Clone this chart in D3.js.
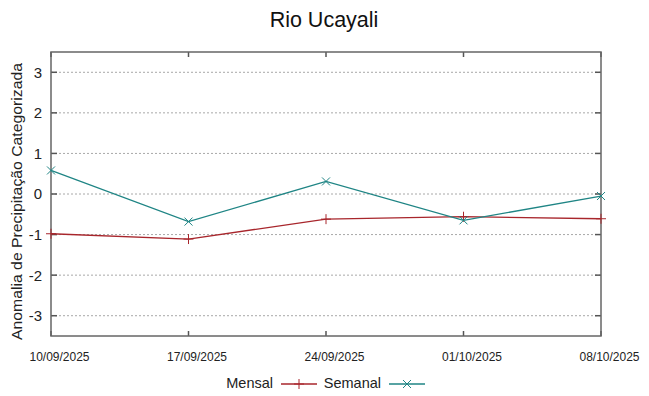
<!DOCTYPE html>
<html><head><meta charset="utf-8">
<script src="https://cdn.jsdelivr.net/npm/d3@7"></script>
<style>body{margin:0;background:#fff}svg{display:block;font-family:"Liberation Sans",Arial,sans-serif}</style>
</head><body><svg id="c" width="649" height="396"></svg>
<script>
const title = "Rio Ucayali";
const yLabel = "Anomalia de Precipitação Categorizada";
const dates = ["10/09/2025","17/09/2025","24/09/2025","01/10/2025","08/10/2025"];
const mensal = [-0.98, -1.11, -0.62, -0.56, -0.61];
const semanal = [0.58, -0.68, 0.31, -0.65, -0.05];
const yTicks = [-3,-2,-1,0,1,2,3];
const seriesNames = ["Mensal","Semanal"];
const colors = ["#a8262c","#1f8585"];

const svg = d3.select("#c");
const L=51, R=601, T=52, B=336;
const parse = d3.timeParse("%d/%m/%Y");
const x = d3.scaleTime().domain([parse(dates[0]), parse(dates[dates.length-1])]).range([L,R]);
const y = d3.scaleLinear().domain([-3.5,3.5]).range([B,T]);

// grid
svg.append("g").selectAll("line").data(yTicks).join("line")
  .attr("x1",L).attr("x2",R).attr("y1",d=>y(d)).attr("y2",d=>y(d))
  .attr("stroke","#a8a8a8").attr("stroke-width",1).attr("stroke-dasharray","2,2");

// ticks inward
const tk = svg.append("g").attr("stroke","#555").attr("stroke-width",1.5);
yTicks.forEach(v=>{
  tk.append("line").attr("x1",L).attr("x2",L+6).attr("y1",y(v)).attr("y2",y(v));
  tk.append("line").attr("x1",R-6).attr("x2",R).attr("y1",y(v)).attr("y2",y(v));
});
dates.forEach(d=>{
  const xx = x(parse(d));
  tk.append("line").attr("x1",xx).attr("x2",xx).attr("y1",B).attr("y2",B-5);
  tk.append("line").attr("x1",xx).attr("x2",xx).attr("y1",T).attr("y2",T+5);
});
// frame
svg.append("rect").attr("x",L).attr("y",T).attr("width",R-L).attr("height",B-T)
  .attr("fill","none").attr("stroke","#666").attr("stroke-width",1.5);

// y labels
svg.append("g").selectAll("text").data(yTicks).join("text")
  .attr("x",L-9).attr("y",d=>y(d)).attr("dy","0.36em").attr("text-anchor","end")
  .attr("font-size",15).attr("fill","#222").text(d=>d);
// x labels
svg.append("g").selectAll("text").data(dates).join("text")
  .attr("x",d=>x(parse(d))+8.5).attr("y",361).attr("text-anchor","middle")
  .attr("font-size",12).attr("fill","#222").text(d=>d);

// title
svg.append("text").attr("x",324).attr("y",27).attr("text-anchor","middle")
  .attr("font-size",21.5).attr("fill","#111").text(title);
// y axis label
svg.append("text").attr("transform","translate(22,201.5) rotate(-90)")
  .attr("text-anchor","middle").attr("font-size",15).attr("fill","#222")
  .attr("textLength",277).attr("lengthAdjust","spacingAndGlyphs").text(yLabel);

const line = d3.line().x((d,i)=>x(parse(dates[i]))).y(d=>y(d));
const data = [mensal, semanal];
function marker(g, type, cx, cy, col){
  if(type===0){
    g.append("line").attr("x1",cx-5).attr("x2",cx+5).attr("y1",cy).attr("y2",cy).attr("stroke",col).attr("stroke-width",1);
    g.append("line").attr("x1",cx).attr("x2",cx).attr("y1",cy-5).attr("y2",cy+5).attr("stroke",col).attr("stroke-width",1);
  } else {
    g.append("line").attr("x1",cx-4).attr("x2",cx+4).attr("y1",cy-4).attr("y2",cy+4).attr("stroke",col).attr("stroke-width",1);
    g.append("line").attr("x1",cx-4).attr("x2",cx+4).attr("y1",cy+4).attr("y2",cy-4).attr("stroke",col).attr("stroke-width",1);
  }
}
data.forEach((s,k)=>{
  svg.append("path").datum(s).attr("d",line).attr("fill","none").attr("stroke",colors[k]).attr("stroke-width",1.3);
  const g = svg.append("g");
  s.forEach((v,i)=>marker(g,k,x(parse(dates[i])),y(v),colors[k]));
});

// legend
const lg = svg.append("g");
const legendPos = [{tx:273, lx1:281, lx2:317}, {tx:381, lx1:389, lx2:425}];
seriesNames.forEach((n,k)=>{
  const p = legendPos[k];
  lg.append("text").attr("x",p.tx).attr("y",388).attr("text-anchor","end")
    .attr("font-size",14.5).attr("fill","#222").text(n);
  lg.append("line").attr("x1",p.lx1).attr("x2",p.lx2).attr("y1",384).attr("y2",384).attr("stroke",colors[k]).attr("stroke-width",1.3);
  marker(lg,k,(p.lx1+p.lx2)/2,384,colors[k]);
});
</script></body></html>
